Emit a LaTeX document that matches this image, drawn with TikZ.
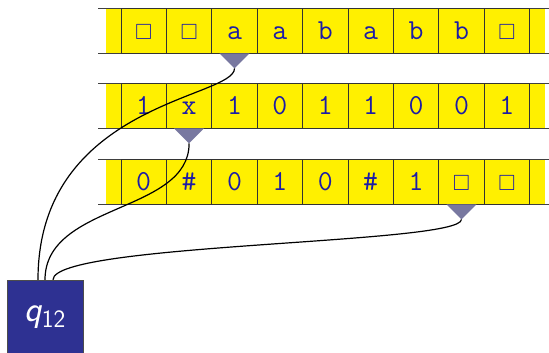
\documentclass[tikz,border=0pt]{standalone}
\usepackage{amssymb}
\usetikzlibrary{positioning,calc}
\definecolor{tmTape}{HTML}{FFF000}
\definecolor{tmSym}{HTML}{1C1CA6}
\definecolor{tmHead}{HTML}{7878A0}
\definecolor{tmState}{HTML}{2E3192}
\tikzset{
  tapebg/.style={fill=tmTape},
  tapeedge/.style={draw=black!75, line width=0.9pt},
  cell/.style={
    draw=black!80, line width=0.8pt, fill=tmTape, minimum width=45.4pt, minimum height=45pt,
    inner sep=0pt, text height=20pt, text depth=2.4pt, text=tmSym, font=\fontsize{29}{30}\selectfont\ttfamily
  },
  headfill/.style={fill=tmHead},
  state/.style={draw=black!70, fill=tmState, minimum width=76pt, minimum height=75pt, text=white, inner sep=0pt},
  wire/.style={line width=1.2pt, black}
}
\newcommand{\blank}{{\fontsize{22}{22}\selectfont$\square$}}

\begin{document}
\begin{tikzpicture}[x=1pt, y=1pt]
  \useasboundingbox (0,0) rectangle (549,353);
  % tape strips
  \foreach \yy in {322.5, 247.5, 171.5} {
    \fill[tapebg] (106,\yy-22.5) rectangle (545,\yy+22.5);
    \draw[tapeedge] (98,\yy-22.5) -- (549,\yy-22.5) (98,\yy+22.5) -- (549,\yy+22.5);
  }
  % tape contents
  \foreach \s [count=\i] in {\blank, \blank, a, a, b, a, b, b, \blank}
    \node[cell] (t1c\i) at (98.3+45.4*\i, 322.5) {\s};
  \foreach \s [count=\i] in {1, x, 1, 0, 1, 1, 0, 0, 1}
    \node[cell] (t2c\i) at (98.3+45.4*\i, 247.5) {\s};
  \foreach \s [count=\i] in {0, \#, 0, 1, 0, \#, 1, \blank, \blank}
    \node[cell] (t3c\i) at (98.3+45.4*\i, 171.5) {\s};
  % heads
  \coordinate (head1) at ($(t1c3.south)+(0,-15)$);
  \coordinate (head2) at ($(t2c2.south)+(0,-15)$);
  \coordinate (head3) at ($(t3c8.south)+(0,-15)$);
  \fill[headfill] ($(t1c3.south)+(-15,0)$) -- ($(t1c3.south)+(15,0)$) -- (head1) -- cycle;
  \fill[headfill] ($(t2c2.south)+(-15,0)$) -- ($(t2c2.south)+(15,0)$) -- (head2) -- cycle;
  \fill[headfill] ($(t3c8.south)+(-15,0)$) -- ($(t3c8.south)+(15,0)$) -- (head3) -- cycle;
  % control state
  \node[state] (state) at (45,35.5)
    {{\fontsize{36}{36}\selectfont\sffamily\itshape q}\raisebox{-6pt}{\fontsize{25}{25}\selectfont\sffamily 12}};
  \draw[wire] ([xshift=-7pt]state.north) .. controls +(0,177) and +(0,-30) .. (head1);
  \draw[wire] (state.north) .. controls +(0,77) and +(0,-70) .. (head2);
  \draw[wire] ([xshift=8pt]state.north) .. controls +(0,37) and +(0,-25) .. (head3);
\end{tikzpicture}
\end{document}
